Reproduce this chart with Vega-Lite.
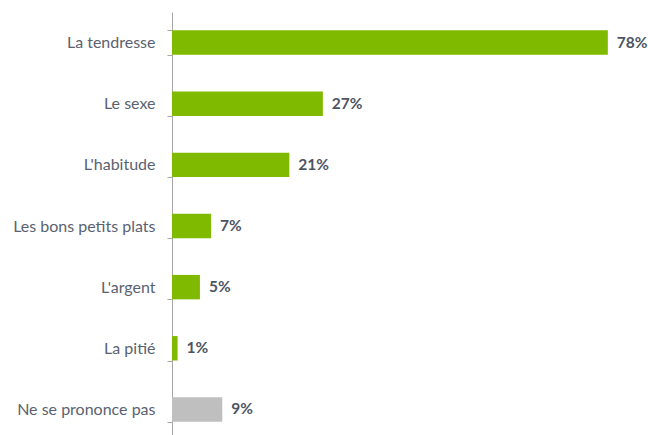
{
  "$schema": "https://vega.github.io/schema/vega-lite/v6.json",
  "autosize": "none",
  "padding": {"left": 172, "top": 12, "right": 29, "bottom": 0},
  "width": 447,
  "height": 428,
  "background": "white",
  "data": {"values": [
    {"cat": "La tendresse", "v": 0.78, "g": "a"},
    {"cat": "Le sexe", "v": 0.27, "g": "a"},
    {"cat": "L'habitude", "v": 0.21, "g": "a"},
    {"cat": "Les bons petits plats", "v": 0.07, "g": "a"},
    {"cat": "L'argent", "v": 0.05, "g": "a"},
    {"cat": "La pitié", "v": 0.01, "g": "a"},
    {"cat": "Ne se prononce pas", "v": 0.09, "g": "b"}
  ]},
  "config": {"view": {"stroke": null}},
  "encoding": {
    "y": {"field": "cat", "type": "nominal", "sort": null,
      "scale": {"paddingInner": 0.6, "paddingOuter": 0.3},
      "axis": {"title": null, "tickBand": "extent", "tickSize": 5, "tickColor": "#a6a6a6",
        "domainColor": "#a6a6a6", "labelFont": "Lato", "labelFontSize": 16,
        "labelColor": "#5a6270", "labelPadding": 12}},
    "x": {"field": "v", "type": "quantitative", "scale": {"domain": [0, 0.8]}, "axis": null}
  },
  "layer": [
    {"mark": {"type": "bar"},
     "encoding": {"color": {"field": "g", "type": "nominal", "legend": null,
       "scale": {"domain": ["a", "b"], "range": ["#7fba00", "#bfbfbf"]}}}},
    {"mark": {"type": "text", "align": "left", "dx": 9, "font": "Lato", "fontSize": 15.5, "fontWeight": "bold", "color": "#4d5563"},
     "encoding": {"text": {"field": "v", "type": "quantitative", "format": ".0%"}}}
  ]
}
